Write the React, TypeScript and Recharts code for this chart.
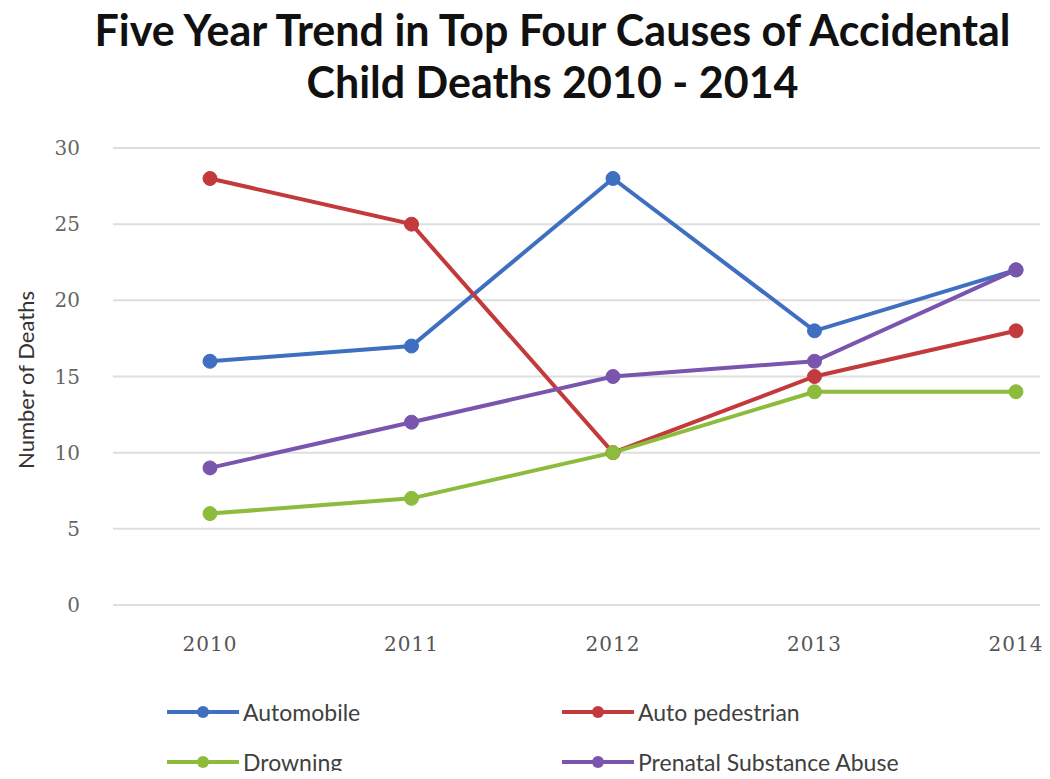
import React from 'react';
import { LineChart, Line, XAxis, YAxis, CartesianGrid } from 'recharts';

const years = ['2010', '2011', '2012', '2013', '2014'];
const automobile = [16, 17, 28, 18, 22];
const autoPedestrian = [28, 25, 10, 15, 18];
const drowning = [6, 7, 10, 14, 14];
const prenatalAbuse = [9, 12, 15, 16, 22];
const yTicks = [0, 5, 10, 15, 20, 25, 30];

const series = [
  { key: 'automobile', name: 'Automobile', color: '#3f6fc0' },
  { key: 'autoPedestrian', name: 'Auto pedestrian', color: '#c33a3d' },
  { key: 'drowning', name: 'Drowning', color: '#8dbb3c' },
  { key: 'prenatalAbuse', name: 'Prenatal Substance Abuse', color: '#7a55ad' },
];

const data = years.map((year, i) => ({
  year,
  automobile: automobile[i],
  autoPedestrian: autoPedestrian[i],
  drowning: drowning[i],
  prenatalAbuse: prenatalAbuse[i],
}));

const LegendBox = () => (
  <div style={{ position: 'absolute', left: 0, top: 699, width: 1050, height: 80, fontFamily: 'Lato, sans-serif', fontSize: 23, color: '#404040' }}>
    {series.map((s, i) => {
      const left = i % 2 === 0 ? 165 : 560;
      const top = i < 2 ? 0 : 50;
      return (
        <div key={s.key} style={{ position: 'absolute', left, top, display: 'flex', alignItems: 'center', whiteSpace: 'nowrap', lineHeight: '26px' }}>
          <svg width={76} height={20}>
            <line x1={2} y1={10} x2={74} y2={10} stroke={s.color} strokeWidth={4} />
            <circle cx={38} cy={10} r={6} fill={s.color} />
          </svg>
          <span style={{ marginLeft: 2 }}>{s.name}</span>
        </div>
      );
    })}
  </div>
);

export default function App() {
  return (
    <div style={{ position: 'relative', width: 1050, height: 779, margin: -8, background: '#fff', overflow: 'hidden' }}>
      <div
        style={{
          position: 'absolute',
          top: 4,
          left: 0,
          width: 1105,
          textAlign: 'center',
          fontFamily: 'Lato, sans-serif',
          fontWeight: 700,
          fontSize: 43,
          lineHeight: '52px',
          color: '#111',
        }}
      >
        Five Year Trend in Top Four Causes of Accidental
        <br />
        Child Deaths 2010 - 2014
      </div>
      <div
        style={{
          position: 'absolute',
          left: 25,
          top: 380,
          transform: 'translate(-50%, -50%) rotate(-90deg)',
          fontFamily: 'Lato, sans-serif',
          fontSize: 22,
          color: '#333',
          whiteSpace: 'nowrap',
        }}
      >
        Number of Deaths
      </div>
      <div style={{ position: 'absolute', left: 1045, top: 0, width: 2, height: 779, background: '#c8c8c8' }} />
      <LineChart width={1050} height={779} data={data} margin={{ top: 148, right: 10, bottom: 144, left: 53 }}>
        <CartesianGrid horizontal vertical={false} stroke="#dedede" strokeWidth={2} />
        <XAxis
          dataKey="year"
          axisLine={false}
          tickLine={false}
          tickSize={0}
          tickMargin={32}
          padding={{ left: 97, right: 24 }}
          tick={{ fill: '#555', fontSize: 20, fontFamily: 'DejaVu Serif, serif', letterSpacing: 1 }}
        />
        <YAxis
          domain={[0, 30]}
          ticks={yTicks}
          width={60}
          axisLine={false}
          tickLine={false}
          tickSize={0}
          tickMargin={33}
          tick={{ fill: '#666', fontSize: 20, fontFamily: 'DejaVu Serif, serif' }}
        />
        {series.map(s => (
          <Line
            key={s.key}
            dataKey={s.key}
            name={s.name}
            stroke={s.color}
            strokeWidth={4}
            dot={{ r: 7, fill: s.color, stroke: s.color, strokeWidth: 1 }}
            isAnimationActive={false}
          />
        ))}
      </LineChart>
      <LegendBox />
    </div>
  );
}
